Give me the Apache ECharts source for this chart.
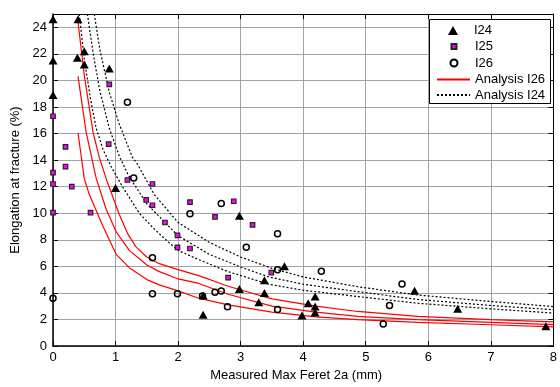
<!DOCTYPE html>
<html>
<head>
<meta charset="utf-8">
<script src="https://cdn.jsdelivr.net/npm/echarts@6/dist/echarts.min.js"></script>
<style>
  html, body { margin: 0; padding: 0; background: #fff; }
  #chart { width: 560px; height: 387px; }
</style>
</head>
<body>
<div id="chart"></div>
<script>
// Measured specimens: [max Feret 2a (mm), elongation at fracture (%)]
const i24Points = [
  [0, 24.6], [0, 21.5], [0, 18.9], [0.4, 24.6], [0.39, 21.7], [0.5, 22.2], [0.5, 21.2],
  [0.9, 20.9], [1.0, 11.9], [2.4, 2.35], [2.4, 3.8], [2.98, 9.8], [2.98, 4.3], [3.29, 3.3],
  [3.38, 4.96], [3.38, 4.0], [3.7, 6.0], [3.98, 2.3], [4.08, 3.22], [4.19, 3.72],
  [4.19, 2.97], [4.19, 2.53], [5.78, 4.16], [6.47, 2.8], [7.88, 1.49]
];
const i25Points = [
  [0, 17.3], [0, 13.05], [0, 12.2], [0, 10.05], [0.2, 15.0], [0.2, 13.5], [0.3, 12.0],
  [0.6, 10.05], [0.9, 19.7], [0.89, 15.2], [1.19, 12.5], [1.49, 11.0], [1.59, 12.2],
  [1.59, 10.6], [1.79, 9.3], [1.99, 8.33], [1.99, 7.43], [2.19, 10.83], [2.19, 7.34],
  [2.59, 9.72], [2.8, 5.15], [2.89, 10.9], [3.19, 9.12], [3.49, 5.53]
];
const i26Points = [
  [0, 3.6], [1.19, 18.35], [1.29, 12.65], [1.59, 6.64], [1.59, 3.94], [1.99, 3.94],
  [2.19, 9.96], [2.39, 3.77], [2.59, 4.04], [2.69, 4.14], [2.69, 10.73], [2.79, 2.95],
  [3.09, 7.43], [3.59, 8.45], [3.59, 5.75], [3.59, 2.75], [4.29, 5.63], [5.28, 1.66],
  [5.38, 3.05], [5.58, 4.66]
];

// Analysis curves for I26 (three bounds)
const i26CurveUpper = [
  [0.4, 24.4], [0.5, 20.4], [0.64, 16.1], [0.74, 14.2], [0.85, 12.6], [1.06, 9.9],
  [1.2, 8.4], [1.33, 7.45], [1.5, 6.7], [1.7, 6.2], [2.0, 5.75], [2.33, 5.3], [2.8, 4.5],
  [3.5, 3.55], [4.2, 3.0], [4.87, 2.6], [5.83, 2.23], [7.0, 1.98], [8.0, 1.81]
];
const i26CurveMid = [
  [0.4, 20.3], [0.53, 16.1], [0.69, 12.64], [0.85, 10.3], [1.01, 8.6], [1.22, 7.2],
  [1.5, 6.1], [1.7, 5.6], [2.0, 5.05], [2.33, 4.71], [2.8, 3.9], [3.5, 3.0], [4.2, 2.55],
  [4.87, 2.23], [5.83, 1.98], [7.0, 1.78], [8.0, 1.61]
];
const i26CurveLower = [
  [0.4, 16.06], [0.5, 12.6], [0.58, 11.4], [0.8, 9.0], [1.01, 6.9], [1.22, 5.9],
  [1.5, 5.0], [1.7, 4.6], [2.0, 4.15], [2.33, 3.6], [2.8, 3.1], [3.5, 2.55], [4.2, 2.2],
  [4.87, 1.98], [5.83, 1.78], [7.0, 1.6], [8.0, 1.44]
];

// Analysis curves for I24 (three bounds)
const i24CurveUpper = [
  [0.66, 25], [0.75, 22.3], [0.9, 19.1], [1.06, 16.7], [1.27, 14.2], [1.35, 13.7],
  [1.62, 11.4], [2.0, 9.3], [2.5, 7.8], [3.0, 6.7], [3.5, 5.85], [4.0, 5.2], [4.88, 4.46],
  [5.83, 3.84], [7.0, 3.35], [8.0, 2.97]
];
const i24CurveMid = [
  [0.55, 25], [0.65, 21.8], [0.75, 19.2], [0.9, 16.4], [1.06, 14.3], [1.2, 12.9],
  [1.5, 10.7], [2.0, 8.3], [2.5, 6.9], [3.0, 5.95], [3.45, 5.2], [4.0, 4.65], [4.88, 4.09],
  [5.83, 3.5], [7.0, 3.05], [8.0, 2.73]
];
const i24CurveLower = [
  [0.42, 25], [0.5, 21.6], [0.6, 18.6], [0.69, 16.4], [0.8, 14.8], [0.93, 13.5], [1.11, 12.0],
  [1.38, 10.0], [1.6, 8.9], [1.85, 7.8], [2.0, 7.2], [2.33, 6.5], [2.8, 5.6], [3.45, 4.65],
  [4.0, 4.2], [4.88, 3.72], [5.83, 3.22], [7.0, 2.8], [8.0, 2.48]
];

const xAxisRange = { min: 0, max: 8, interval: 1 };
const yAxisRange = { min: 0, max: 25, interval: 2 };

const FONT = 'Liberation Sans, Arial, sans-serif';
const gridColor = '#a3a3a3';

const chart = echarts.init(document.getElementById('chart'), null, { renderer: 'canvas' });

function redCurve(data) {
  return {
    name: 'Analysis I26', type: 'line', data, symbol: 'none', smooth: false,
    lineStyle: { color: '#ff0000', width: 1.2 }, itemStyle: { color: '#ff0000' },
    z: 3, silent: true, animation: false
  };
}
function dottedCurve(data) {
  return {
    name: 'Analysis I24', type: 'line', data, symbol: 'none', smooth: false,
    lineStyle: { color: '#000', width: 1.2, type: [2, 2] }, itemStyle: { color: '#000' },
    z: 3, silent: true, animation: false
  };
}

// One legend per row so each key can have its own icon size
function legendRow(name, top, iconW, iconH, textPad) {
  return {
    orient: 'vertical', left: 453 - iconW / 2, top, itemWidth: iconW, itemHeight: iconH,
    padding: 0, itemGap: 0, z: 5, selectedMode: false, data: [name],
    textStyle: { fontFamily: FONT, fontSize: 13, color: '#000', padding: [0, 0, 0, textPad] }
  };
}
function legendLineRow(name, top) {
  return {
    orient: 'vertical', left: 436, top, itemWidth: 33, itemHeight: 14,
    padding: 0, itemGap: 0, z: 5, selectedMode: false, data: [name],
    itemStyle: { opacity: 0 },
    textStyle: { fontFamily: FONT, fontSize: 13, color: '#000' }
  };
}

const option = {
  animation: false,
  backgroundColor: '#fff',
  grid: { left: 53, right: 5, top: 14, bottom: 37, containLabel: false },
  xAxis: [
    {
      type: 'value', ...xAxisRange, position: 'bottom',
      name: 'Measured Max Feret 2a (mm)', nameLocation: 'middle', nameGap: 23,
      nameTextStyle: { fontFamily: FONT, fontSize: 13, color: '#000', padding: [0, 14, 0, 0] },
      axisLine: { onZero: false, lineStyle: { color: '#000', width: 1.5 } },
      axisTick: { inside: true, length: 5, lineStyle: { color: '#000' } },
      axisLabel: { fontFamily: FONT, fontSize: 13, color: '#000', margin: 5 },
      splitLine: { show: true, lineStyle: { color: gridColor, width: 1 } }
    },
    {
      type: 'value', ...xAxisRange, position: 'top',
      axisLine: { onZero: false, lineStyle: { color: '#000', width: 1 } },
      axisTick: { inside: true, length: 5, lineStyle: { color: '#000' } },
      axisLabel: { show: false }, splitLine: { show: false }
    }
  ],
  yAxis: [
    {
      type: 'value', ...yAxisRange, position: 'left',
      name: 'Elongation at fracture (%)', nameLocation: 'middle', nameGap: 24, nameRotate: 90,
      nameTextStyle: { fontFamily: FONT, fontSize: 13, color: '#000' },
      axisLine: { onZero: false, lineStyle: { color: '#000', width: 1.5 } },
      axisTick: { inside: true, length: 5, lineStyle: { color: '#000' } },
      axisLabel: { fontFamily: FONT, fontSize: 13, color: '#000', margin: 6, showMaxLabel: false },
      splitLine: { show: true, lineStyle: { color: gridColor, width: 1 } }
    },
    {
      type: 'value', ...yAxisRange, position: 'right',
      axisLine: { onZero: false, lineStyle: { color: '#000', width: 1 } },
      axisTick: { inside: true, length: 5, lineStyle: { color: '#000' } },
      axisLabel: { show: false }, splitLine: { show: false }
    }
  ],
  legend: [
    legendRow('I24', 24, 10, 9, 11),
    legendRow('I25', 40, 5, 5, 13.5),
    legendRow('I26', 56.5, 7, 7, 12.5),
    legendLineRow('Analysis I26', 73),
    legendLineRow('Analysis I24', 88.5)
  ],
  graphic: [
    {
      type: 'rect', z: 3, silent: true,
      shape: { x: 429.5, y: 19.5, width: 121, height: 84 },
      style: { fill: '#fff', stroke: '#000', lineWidth: 1 }
    }
  ],
  series: [
    {
      name: 'I24', type: 'scatter', data: i24Points, symbol: 'triangle', symbolSize: [9, 8],
      itemStyle: { color: '#000', opacity: 1 }, z: 4, animation: false
    },
    {
      name: 'I25', type: 'scatter', data: i25Points, symbol: 'rect', symbolSize: 4.5,
      itemStyle: { color: '#ff00ff', borderColor: '#222', borderWidth: 1.2, opacity: 1 },
      z: 4, animation: false
    },
    {
      name: 'I26', type: 'scatter', data: i26Points, symbol: 'circle', symbolSize: 6,
      itemStyle: { color: 'rgba(255,255,255,0)', borderColor: '#000', borderWidth: 1.5, opacity: 1 },
      z: 4, animation: false
    },
    redCurve(i26CurveUpper), redCurve(i26CurveMid), redCurve(i26CurveLower),
    dottedCurve(i24CurveUpper), dottedCurve(i24CurveMid), dottedCurve(i24CurveLower)
  ]
};

chart.setOption(option);
</script>
</body>
</html>
